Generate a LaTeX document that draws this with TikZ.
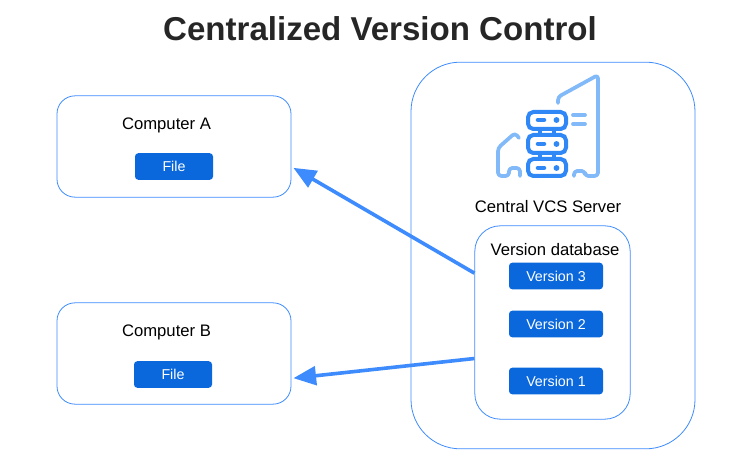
\documentclass[tikz,border=0pt]{standalone}
\usepackage{fontspec}
\setmainfont{Liberation Sans}
\usepackage{xcolor}
\usetikzlibrary{arrows.meta, positioning}
\definecolor{edgeblue}{HTML}{3D8BFD}
\definecolor{fillblue}{HTML}{0A68DC}
\definecolor{iconblue}{HTML}{2F88F6}
\definecolor{iconlight}{HTML}{82BAF9}
\definecolor{inkblack}{HTML}{262626}

\begin{document}
\begin{tikzpicture}[
    x=0.75pt, y=-0.75pt,
    box/.style={
        rectangle, draw=edgeblue, rounded corners=13.5pt, line width=0.6pt,
        inner sep=0pt, minimum width=175.5pt, minimum height=76pt
    },
    filebox/.style={
        rectangle, fill=fillblue, rounded corners=2.5pt, text=white, font=\fontsize{10.7}{12}\selectfont,
        inner sep=0pt, minimum width=58.5pt, minimum height=20pt
    },
    versionbox/.style={filebox, minimum width=70.5pt},
    label/.style={font=\fontsize{12.5}{14}\selectfont, text=black, inner sep=0pt},
    arrow/.style={-{Triangle[length=17pt, width=14pt]}, line width=2.7pt, draw=edgeblue},
    iconmain/.style={draw=iconblue, line width=3pt, rounded corners=4pt, line cap=round},
    iconside/.style={draw=iconlight, line width=2.8pt, rounded corners=2.5pt, line cap=round, line join=round},
]
\useasboundingbox (0,0) rectangle (736,470);

% Title
\node[font=\bfseries\fontsize{24.8}{28}\selectfont, text=inkblack, inner sep=0pt] (title) at (380,29) {Centralized Version Control};

% Computers
\node[box] (compA) at (174,146.5) {};
\node[box] (compB) at (174,353.5) {};
\node[label] (nameA) at (166.5,125) {Computer A};
\node[label] (nameB) at (166.5,332) {Computer B};
\node[filebox] (fileA) at (174,166.5) {File};
\node[filebox] (fileB) at (173,374.5) {File};

% Server
\node[box, rounded corners=37pt, minimum width=213pt, minimum height=290pt] (server) at (553,255.5) {};
\node[box, rounded corners=19pt, minimum width=116.5pt, minimum height=145pt] (db) at (552.5,322.5) {};
\node[label] (namesrv) at (548,207) {Central VCS Server};
\node[label] (namedb) at (555,250) {Version database};
\node[versionbox] (v3) at (556,276) {Version 3};
\node[versionbox] (v2) at (556,324) {Version 2};
\node[versionbox] (v1) at (556,381) {Version 1};

% Icon
\draw[iconside] (558,103) -- (558,97) -- (598,75) -- (598,176) -- (585,176) -- (585,171) -- (574,171) -- (574,176);
\draw[iconside] (519,138) -- (515,133) -- (498,148) -- (498,176) -- (509,176) -- (509,168) -- (520,168) -- (520,176);
\draw[iconside] (573,115) -- (585,115);
\draw[iconside] (573,124) -- (585,124);
\draw[iconmain] (528,112) rectangle (566,129);
\draw[iconmain] (528,135) rectangle (566,153);
\draw[iconmain] (528,159) rectangle (566,176);
\draw[iconmain] (540,129) -- (540,135) (554,129) -- (554,135) (540,153) -- (540,159) (554,153) -- (554,159);
\foreach \ypos in {120,144,168} {
    \draw[iconmain, line width=3.4pt] (538,\ypos) -- (544,\ypos);
    \fill[iconblue] (556.5,\ypos) circle (2.2pt);
}

% Arrows
\draw[arrow] ([yshift=37pt]db.west) -- ([xshift=1.5pt,yshift=-16pt]compA.east);
\draw[arrow] ([yshift=-27pt]db.west) -- ([xshift=1.5pt,yshift=-18.5pt]compB.east);

\end{tikzpicture}
\end{document}
